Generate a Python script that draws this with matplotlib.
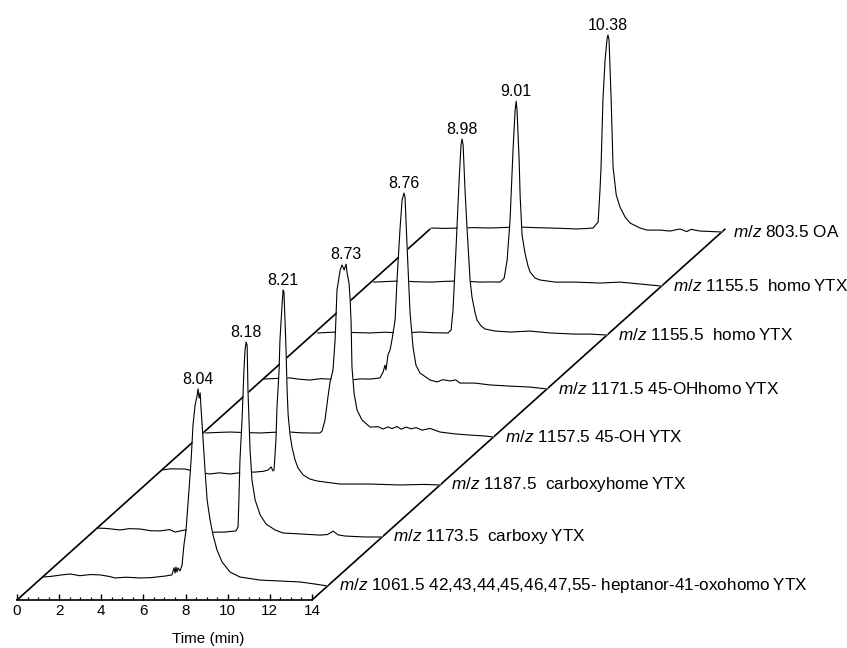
import matplotlib
matplotlib.use("Agg")
import matplotlib.pyplot as plt
from matplotlib.ticker import FixedLocator
import numpy as np

plt.rcParams['font.family'] = ['Liberation Sans', 'DejaVu Sans']
plt.rcParams['mathtext.fontset'] = 'custom'
plt.rcParams['mathtext.it'] = 'Liberation Sans:italic'
plt.rcParams['mathtext.rm'] = 'Liberation Sans'

# Chromatogramy: czas [min], intensywnosc [% piku]
# (od przedniego do tylnego sladu)
heptanor_t = [0.23, 0.6, 1.06, 1.53, 2.0, 2.5, 2.96, 3.4, 3.67, 4.2, 4.86, 5.4, 6.04, 6.37, 6.47,
              6.52, 6.56, 6.61, 6.66, 6.75, 6.85, 6.94, 7.04, 7.18, 7.28, 7.37, 7.47, 7.56, 7.61,
              7.66, 7.71, 7.75, 7.85, 7.94, 8.04, 8.18, 8.32, 8.51, 8.75, 9.13, 9.6, 10.55, 11.5,
              12.45, 13.16, 13.76]
heptanor_i = [2.3, 2.6, 3.3, 3.9, 3.0, 3.6, 3.4, 2.6, 1.8, 2.2, 1.8, 2.0, 2.8, 3.4, 7.1,
              4.4, 7.6, 4.9, 7.1, 5.5, 8.6, 19.2, 27.1, 48.1, 63.9, 82.3, 92.8, 97.6, 101.3,
              96.5, 99.2, 91.3, 74.4, 58.6, 42.8, 32.3, 24.4, 16.5, 10.2, 4.9, 2.3, 0.7, 0.2,
              -0.3, -1.4, -2.4]

carboxy_t = [0.16, 0.6, 1.25, 1.7, 2.2, 2.7, 3.15, 3.6, 3.86, 4.33, 4.7, 5.05, 5.6, 6.23, 6.75,
             6.85, 6.89, 6.94, 7.04, 7.13, 7.18, 7.23, 7.28, 7.32, 7.42, 7.51, 7.66, 7.9, 8.18,
             8.61, 8.98, 9.79, 10.74, 11.1, 11.36, 11.6, 11.93, 12.88, 13.69]
carboxy_i = [1.6, 1.4, 0.6, 1.3, 1.1, 0.2, 0.1, 0.8, -0.5, 0.6, -0.4, -1.0, -0.6, -0.5, 0.1,
             2.2, 16.4, 37.4, 58.5, 84.8, 95.3, 99.5, 97.9, 74.3, 42.7, 26.9, 16.4, 8.5, 3.7,
             0.6, -1.0, -1.5, -2.1, -1.8, 0.0, -2.0, -2.6, -3.1, -3.1]

carboxyhomo_t = [0.57, 1.0, 1.68, 2.3, 2.86, 3.3, 3.81, 4.4, 5.0, 5.4, 5.62, 5.76, 5.85, 5.90,
                 5.99, 6.04, 6.14, 6.18, 6.28, 6.33, 6.37, 6.42, 6.47, 6.52, 6.57, 6.66, 6.76,
                 6.90, 7.04, 7.28, 7.61, 7.94, 9.03, 10.46, 11.88, 13.0, 13.78]
carboxyhomo_i = [5.7, 6.3, 6.2, 4.5, 3.6, 4.2, 3.6, 4.4, 4.6, 5.0, 5.7, 7.3, 5.2, 5.7,
                 21.5, 38.8, 58.3, 74.1, 92.5, 100.4, 99.4, 84.6, 68.8, 47.8, 34.6, 24.1, 17.3,
                 10.9, 6.7, 3.1, 0.9, -0.1, -1.7, -1.7, -2.2, -1.9, -2.2]

oh_t = [0.0, 0.6, 1.15, 1.9, 2.58, 3.3, 4.0, 4.5, 4.95, 5.42, 5.52, 5.66, 5.80, 5.90, 6.04, 6.14,
        6.23, 6.38, 6.47, 6.57, 6.66, 6.71, 6.80, 6.85, 6.90, 6.94, 7.04, 7.18, 7.42, 7.80, 8.18,
        8.42, 8.65, 8.84, 9.08, 9.27, 9.51, 9.75, 9.99, 10.27, 10.65, 11.12, 11.84, 12.55, 13.26,
        13.66]
oh_i = [-1.3, -1.0, -0.8, -1.1, -1.3, -0.9, -0.8, -1.2, -1.3, -1.3, -0.3, 5.5, 17.6, 25.5, 31.8,
        47.6, 73.9, 84.5, 87.1, 84.5, 87.6, 82.9, 77.6, 69.7, 56.6, 33.4, 19.7, 10.8, 5.5, 1.8,
        2.0, 0.8, 1.9, 1.0, 2.1, 0.7, 1.8, 0.9, 1.5, 0.2, 1.1, -0.8, -1.8, -2.4, -2.9, -3.4]

ohhomo_t = [0.06, 0.6, 1.34, 1.8, 2.29, 2.8, 3.24, 3.7, 4.19, 4.7, 5.14, 5.61, 5.76, 5.85, 5.90,
            5.99, 6.09, 6.18, 6.33, 6.42, 6.56, 6.66, 6.75, 6.80, 6.90, 6.99, 7.04, 7.18, 7.32,
            7.51, 7.99, 8.32, 8.6, 8.94, 9.2, 9.41, 10.12, 10.84, 11.79, 12.74, 13.54]
ohhomo_i = [0.6, 0.9, 1.2, 0.5, 0.1, 0.8, 0.6, 0.2, 0.1, 0.7, 0.6, 1.2, 4.3, 7.9, 5.4,
            13.3, 15.9, 21.2, 31.7, 52.7, 79.1, 94.8, 98.5, 96.4, 70.0, 47.5, 35.3, 17.5, 7.9,
            3.8, 0.1, -0.9, 0.3, -0.4, 0.2, -1.5, -1.5, -2.5, -3.1, -3.6, -4.6]

homo_a_t = [0.0, 0.5, 1.06, 1.8, 2.48, 3.2, 3.91, 4.4, 4.86, 5.5, 6.18, 6.33, 6.42, 6.56, 6.71,
            6.80, 6.85, 6.90, 6.99, 7.09, 7.23, 7.32, 7.47, 7.56, 7.75, 7.94, 8.42, 9.13, 10.08,
            11.03, 12.21, 12.93, 13.73]
homo_a_i = [-1.6, -1.3, -1.1, -1.4, -1.6, -1.2, -1.6, -1.4, -1.1, -1.5, -1.6, 0.0, 10.5, 42.1,
            78.9, 97.3, 100.5, 97.3, 73.6, 52.6, 26.3, 17.3, 8.9, 5.2, 2.1, 0.5, -0.6, -1.1,
            -0.6, -1.6, -2.2, -2.2, -2.7]

homo_b_t = [0.0, 0.6, 1.25, 2.0, 2.67, 3.4, 4.1, 4.6, 5.05, 5.5, 6.0, 6.19, 6.33, 6.47, 6.61,
            6.71, 6.76, 6.80, 6.90, 6.95, 7.04, 7.18, 7.32, 7.42, 7.66, 7.90, 8.61, 9.55, 10.74,
            11.69, 12.64, 13.66]
homo_b_i = [-1.3, -1.0, -0.7, -1.1, -1.3, -0.9, -0.7, -1.0, -1.3, -1.2, -1.3, 0.8, 10.3, 31.4,
            68.2, 89.2, 93.9, 89.2, 62.9, 43.4, 23.4, 13.9, 7.2, 4.0, 0.8, -0.2, -1.3, -1.3,
            -1.8, -1.3, -2.3, -3.4]

oa_t = [0.07, 0.7, 1.44, 2.1, 2.86, 3.6, 4.29, 5.0, 5.71, 6.3, 6.9, 7.4, 7.75, 7.99, 8.08, 8.13,
        8.22, 8.32, 8.42, 8.46, 8.51, 8.61, 8.70, 8.85, 9.03, 9.27, 9.51, 9.98, 10.32, 10.93,
        11.4, 11.88, 12.2, 12.4, 12.83, 13.86]
oa_i = [0.7, 0.5, 0.7, 0.9, 0.7, 1.0, 1.2, 0.9, 0.7, 0.5, 0.2, 0.4, 0.7, 3.8, 20.7, 32.8,
        68.1, 89.1, 100.7, 102.3, 99.6, 68.1, 32.8, 18.1, 11.7, 6.5, 3.3, 0.7, -0.4, -0.4,
        -0.9, 0.2, -1.2, 0.0, -0.9, -1.4]

czasy = [heptanor_t, carboxy_t, carboxyhomo_t, oh_t, ohhomo_t, homo_a_t, homo_b_t, oa_t]
intensywnosci = [heptanor_i, carboxy_i, carboxyhomo_i, oh_i, ohhomo_i, homo_a_i, homo_b_i, oa_i]

rt_labels = ["8.04", "8.18", "8.21", "8.73", "8.76", "8.98", "9.01", "10.38"]
ion_labels = [
    "$\\mathit{m/z}$ 1061.5 42,43,44,45,46,47,55- heptanor-41-oxohomo\u2009YTX",
    "$\\mathit{m/z}$ 1173.5  carboxy\u2009YTX",
    "$\\mathit{m/z}$ 1187.5  carboxyhome\u2009YTX",
    "$\\mathit{m/z}$ 1157.5 45-OH\u2009YTX",
    "$\\mathit{m/z}$ 1171.5 45-OHhomo\u2009YTX",
    "$\\mathit{m/z}$ 1155.5  homo\u2009YTX",
    "$\\mathit{m/z}$ 1155.5  homo\u2009YTX",
    "$\\mathit{m/z}$ 803.5 OA",
]

# Geometria "3D" - przesuniecie kolejnych sladow
krok_x = 2.658   # min
krok_y = 26.47   # jednostki intensywnosci
start = 0.37
n = len(czasy)
t_max = 14

fig = plt.figure(figsize=(8.47, 6.48), dpi=100)
ax = fig.add_axes([0, 48 / 648, 1, 600 / 648])
ax.set_xlim(-17 / 21.07, 830 / 21.07)
ax.set_ylim(0, 600 / 1.9)

for s in ['top', 'right', 'left']:
    ax.spines[s].set_visible(False)
ax.spines['bottom'].set_bounds(0, t_max)
ax.spines['bottom'].set_linewidth(1.2)
ax.set_yticks([])
ax.set_xticks(range(0, t_max + 1, 2))
ax.xaxis.set_minor_locator(FixedLocator(np.arange(0, t_max + 0.01, 0.5)))
ax.tick_params(axis='x', which='major', direction='in', length=4.5, width=1, labelsize=11, pad=3)
ax.tick_params(axis='x', which='minor', direction='in', length=2.5, width=0.9)
ax.set_xlabel('Time (min)', fontsize=11)
ax.xaxis.set_label_coords(208 / 847, -0.053)

# Krawedzie plaszczyzny (przekatne)
glebokosc = n - 1 + start
ax.plot([0, glebokosc * krok_x], [0, glebokosc * krok_y], color='black', lw=1.2, zorder=1)
ax.plot([t_max, t_max + glebokosc * krok_x], [0, glebokosc * krok_y], color='black', lw=1.2, zorder=1)

# Slady od tylnego do przedniego
for k in reversed(range(n)):
    ox = (k + start) * krok_x
    oy = (k + start) * krok_y
    x = np.array(czasy[k]) + ox
    y = np.array(intensywnosci[k]) + oy
    z = 2 + 2 * (n - k)
    ax.fill_between(x, oy, y, color='white', lw=0, zorder=z)
    ax.plot(x, y, color='black', lw=0.8, zorder=z + 1)
    j = np.argmax(y)
    ax.annotate(rt_labels[k], (x[j], y[j]), xytext=(0, 1.5), textcoords='offset points',
                ha='center', va='bottom', fontsize=11.5, zorder=30)
    ax.annotate(ion_labels[k], (x[-1], y[-1]), xytext=(8, 0), textcoords='offset points',
                ha='left', va='center', fontsize=12.3, zorder=30)

fig.savefig('out.png', dpi=100)
